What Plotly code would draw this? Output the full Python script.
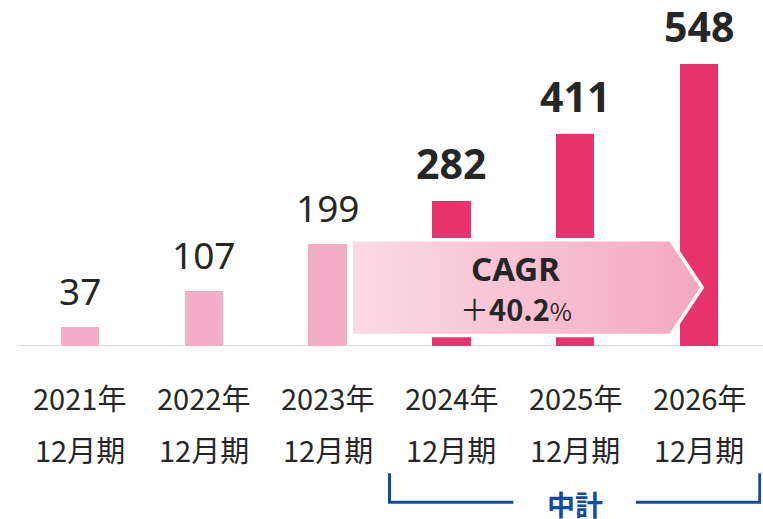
import plotly.graph_objects as go

# Revenue by fiscal year (actuals + mid-term plan)
years = ["2021年", "2022年", "2023年", "2024年", "2025年", "2026年"]
periods = ["12月期"] * 6
values = [37, 107, 199, 282, 411, 548]
is_plan = [False, False, False, True, True, True]
cagr_label = "CAGR"
cagr_sign = "＋"
cagr_value = "40.2"
plan_label = "中計"

LIGHT = "#F4ADC6"
DEEP = "#E8336F"
TEXT = "#262626"
BLUE = "#0E4DA2"

W, H = 763, 519
ML, MR, MT = 18, 2, 0
BASE_PX = 346.5
Y_MAX = 672

x = list(range(len(values)))
colors = [DEEP if p else LIGHT for p in is_plan]

fig = go.Figure()
fig.add_trace(go.Bar(
    x=x, y=values, width=0.31, marker=dict(color=colors, line=dict(width=0)),
    hoverinfo="skip", showlegend=False,
))

# CAGR arrow (gradient-filled polygon with white outline)
ax_l, ax_b, ax_tip = 2.19, 4.767, 5.025
ay_top, ay_bot = 206.6, 20.4
ay_mid = (ay_top + ay_bot) / 2
fig.add_trace(go.Scatter(
    x=[ax_l, ax_b, ax_tip, ax_b, ax_l, ax_l],
    y=[ay_top, ay_top, ay_mid, ay_bot, ay_bot, ay_top],
    mode="lines", fill="toself",
    fillgradient=dict(type="horizontal",
                      colorscale=[[0, "#FADAE5"], [1, "#F4A8C2"]]),
    line=dict(color="white", width=3.5),
    hoverinfo="skip", showlegend=False,
))

annotations = []
for i, v in enumerate(values):
    bold = is_plan[i]
    annotations.append(dict(
        x=i, y=v, xref="x", yref="y", yanchor="bottom", showarrow=False,
        yshift=8 if bold else 9,
        text=f"<b>{v}</b>" if bold else str(v),
        font=dict(family="Noto Sans, Lato, sans-serif",
                  size=41 if bold else 37, color=TEXT),
    ))


def py(pixel_y):
    return (BASE_PX - pixel_y) / BASE_PX


for i in x:
    annotations.append(dict(
        x=i, y=py(398), xref="x", yref="paper", yanchor="middle", showarrow=False,
        text=years[i], font=dict(family="Noto Sans CJK JP", size=29, color=TEXT),
    ))
    annotations.append(dict(
        x=i, y=py(450), xref="x", yref="paper", yanchor="middle", showarrow=False,
        text=periods[i], font=dict(family="Noto Sans CJK JP", size=29, color=TEXT),
    ))

cx = (ax_l + ax_b) / 2 + 0.04
annotations.append(dict(
    x=cx, y=ay_mid + 38, xref="x", yref="y", yanchor="middle", showarrow=False,
    text=f"<b>{cagr_label}</b>",
    font=dict(family="Noto Sans, sans-serif", size=33, color=TEXT),
))
annotations.append(dict(
    x=cx, y=ay_mid - 40, xref="x", yref="y", yanchor="middle", showarrow=False,
    text=f"{cagr_sign}<b>{cagr_value}</b><span style='font-size:24px'>%</span>",
    font=dict(family="Noto Sans CJK JP", size=29, color=TEXT),
))
annotations.append(dict(
    x=4.0, y=py(505), xref="x", yref="paper", yanchor="middle", showarrow=False,
    text=f"<b>{plan_label}</b>",
    font=dict(family="Noto Sans CJK JP", size=28, color=BLUE),
))

shapes = [
    # baseline
    dict(type="line", xref="paper", yref="y", x0=0, x1=1.01, y0=0, y1=0,
         line=dict(color="#D9D9D9", width=2), layer="below"),
    # mid-term plan bracket
    dict(type="path", xref="x", yref="paper",
         path=f"M 2.5,{py(474)} L 2.5,{py(503)} L 3.5,{py(503)}",
         line=dict(color=BLUE, width=3)),
    dict(type="path", xref="x", yref="paper",
         path=f"M 4.49,{py(503)} L 5.49,{py(503)} L 5.49,{py(474)}",
         line=dict(color=BLUE, width=3)),
]

fig.update_layout(
    width=W, height=H,
    margin=dict(l=ML, r=MR, t=MT, b=H - BASE_PX),
    paper_bgcolor="white", plot_bgcolor="white",
    xaxis=dict(range=[-0.5, 5.5], visible=False, fixedrange=True),
    yaxis=dict(range=[0, Y_MAX], visible=False, fixedrange=True),
    annotations=annotations, shapes=shapes, bargap=0,
)

fig.write_html("out.html", config={"displayModeBar": False})
